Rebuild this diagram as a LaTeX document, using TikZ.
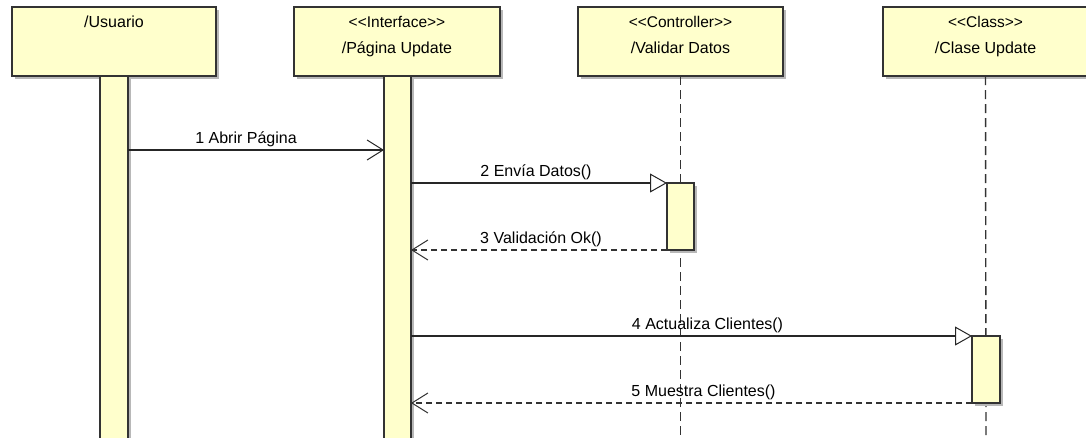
\documentclass[tikz,border=0pt]{standalone}
\usepackage{fontspec}
\setmainfont{Liberation Sans}
\usetikzlibrary{arrows.meta,shadows,calc}
\definecolor{umlfill}{HTML}{FFFFCC}
\definecolor{umlline}{HTML}{333333}
\begin{document}
\begin{tikzpicture}[x=1pt,y=-1pt,
  boxshadow/.style={drop shadow={shadow xshift=2.5pt,shadow yshift=-2.5pt,fill=black!28,opacity=1}},
  head/.style={draw=umlline,line width=1.2pt,fill=umlfill,minimum height=69pt,inner sep=0pt,outer sep=0pt,boxshadow},
  bar/.style={draw=umlline,line width=1.2pt,fill=umlfill,minimum width=27pt,inner sep=0pt,outer sep=0pt,anchor=north,boxshadow},
  lifeline/.style={draw=umlline,line width=1.4pt,dash pattern=on 9pt off 5pt},
  txt/.style={font=\fontsize{16}{19}\selectfont,inner sep=0pt,anchor=base},
  stereo/.style={font=\fontsize{15.5}{18}\selectfont,inner sep=0pt,anchor=base},
  lbl/.style={txt,yshift=7pt},
  call/.style={draw=black!85,line width=1.1pt,-{Straight Barb[length=16pt,width=20pt,line width=1pt]}},
  sync/.style={draw=black!85,line width=1.1pt,-{Triangle[open,length=17pt,width=19pt,line width=1pt,fill=white]}},
  ret/.style={draw=black!80,line width=1.1pt,dash pattern=on 6pt off 4pt,-{Straight Barb[length=16pt,width=20pt,line width=1pt]}}
]
\useasboundingbox (0,0) rectangle (1086,437);
\fill[white] (0,0) rectangle (1086,437);

% message levels
\coordinate (m1) at (0,150);
\coordinate (m2) at (0,183);
\coordinate (m3) at (0,250);
\coordinate (m4) at (0,336);
\coordinate (m5) at (0,403);
\coordinate (endC) at (680.5,445);
\coordinate (endK) at (986,445);

% heads
\node[head,minimum width=204pt] (hU) at (114,41.5) {};
\node[head,minimum width=206pt] (hI) at (397,41.5) {};
\node[head,minimum width=205pt] (hC) at (680.5,41.5) {};
\node[head,minimum width=205pt] (hK) at (985.5,41.5) {};

% lifelines
\draw[lifeline] (hC.south) -- (endC);
\draw[lifeline] (hK.south) -- (endK);

% activation bars
\node[bar,minimum width=28pt,minimum height=370pt] (actU) at (hU.south) {};
\node[bar,minimum height=370pt] (actI) at (397.5,76) {};
\node[bar,minimum height=67pt] (actC) at (680.5,183) {};
\node[bar,minimum width=28pt,minimum height=67pt] (actK) at (986,336) {};

% head texts
\node[txt,yshift=-20pt] (tU) at (hU.north) {/Usuario};
\node[stereo,yshift=-20pt] (sI) at (hI.north) {{<}{<}Interface{>}{>}};
\node[txt,yshift=-46pt] (tI) at (hI.north) {/Página Update};
\node[stereo,yshift=-20pt] (sC) at (hC.north) {{<}{<}Controller{>}{>}};
\node[txt,yshift=-46pt] (tC) at (hC.north) {/Validar Datos};
\node[stereo,yshift=-20pt] (sK) at (hK.north) {{<}{<}Class{>}{>}};
\node[txt,yshift=-46pt] (tK) at (hK.north) {/Clase Update};

% messages
\draw[call] (actU.east |- m1) -- node[lbl,xshift=-10pt] (l1) {1 Abrir Página} (actI.west |- m1);
\draw[sync] (actI.east |- m2) -- node[lbl,xshift=-3pt] (l2) {2 Envía Datos()} (actC.north west);
\draw[ret] (actC.south west) -- node[lbl,xshift=2pt] (l3) {3 Validación Ok()} (actI.east |- m3);
\draw[sync] (actI.east |- m4) -- node[lbl,xshift=16pt] (l4) {4 Actualiza Clientes()} (actK.north west);
\draw[ret] (actK.south west) -- node[lbl,xshift=12pt] (l5) {5 Muestra Clientes()} (actI.east |- m5);
\end{tikzpicture}
\end{document}
